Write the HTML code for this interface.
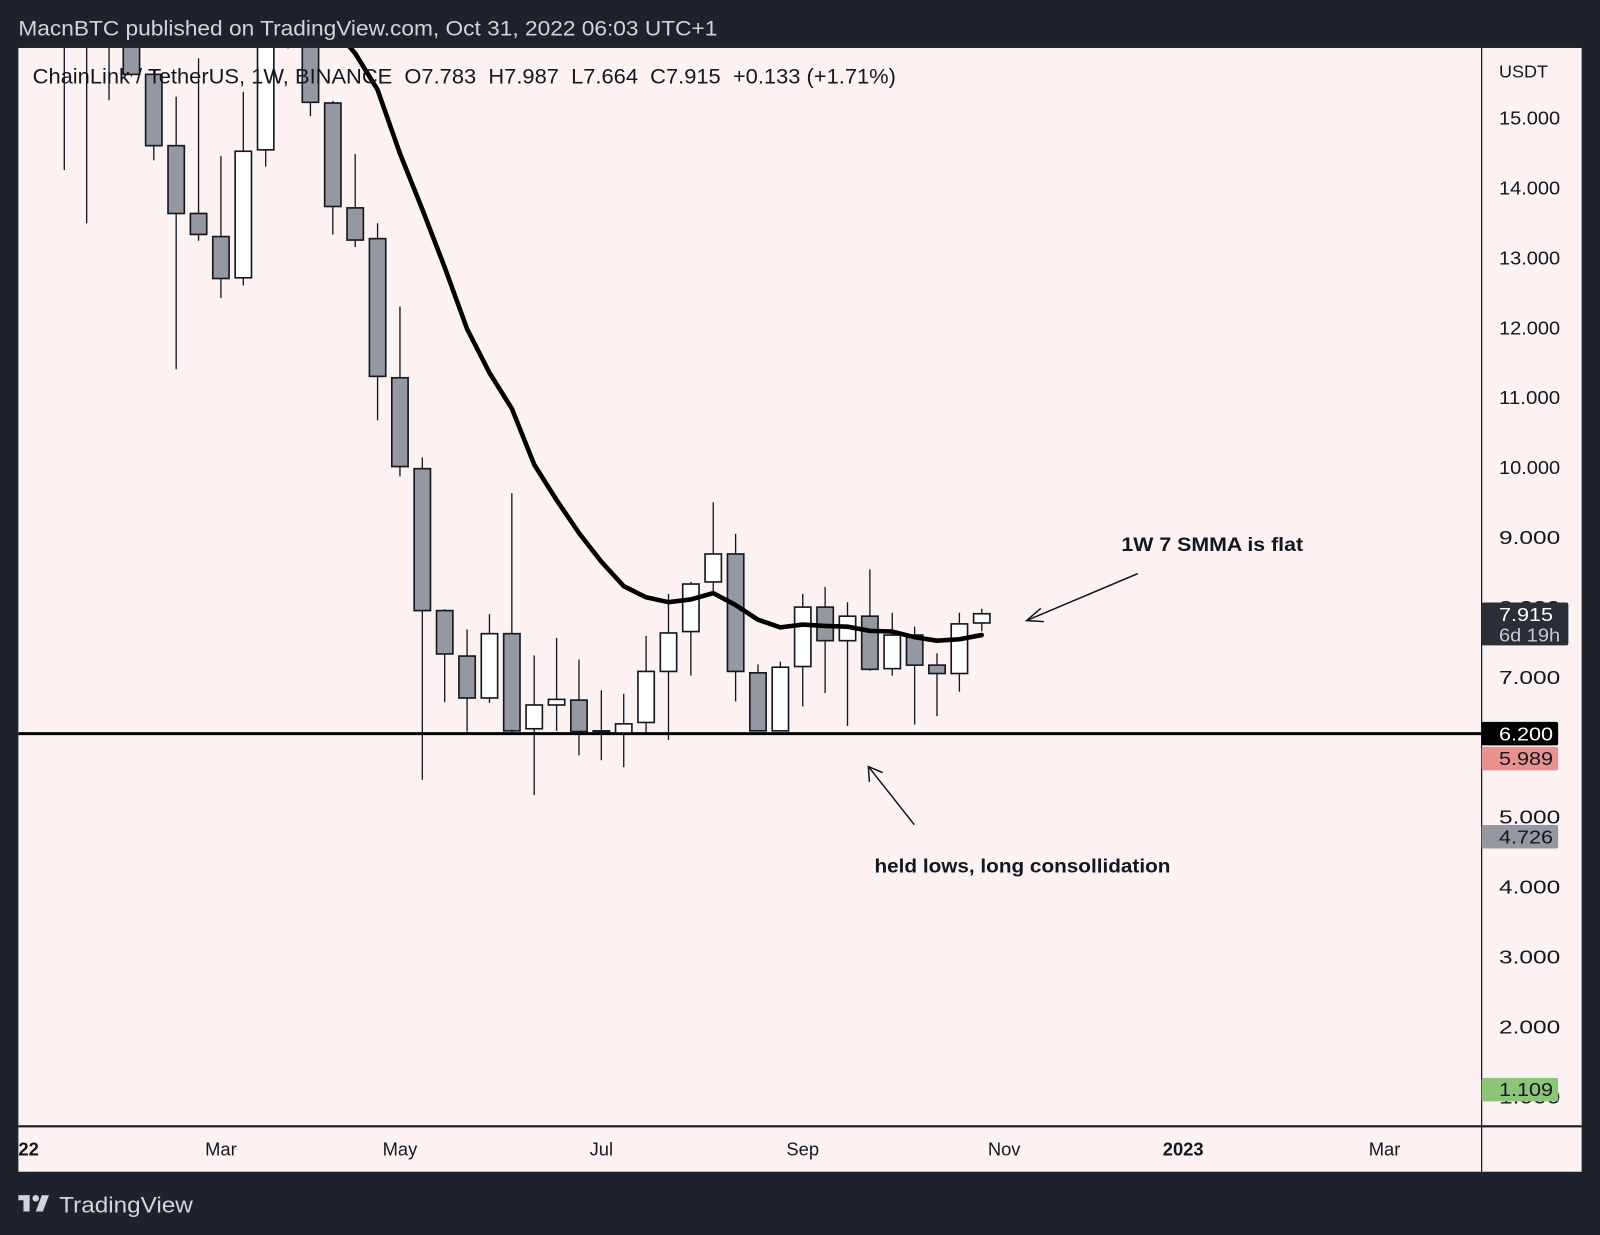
<!DOCTYPE html>
<html><head><meta charset="utf-8"><style>
html,body{margin:0;padding:0;background:#1e222d;}
svg{display:block;font-family:"Liberation Sans",sans-serif;}
</style></head><body>
<svg id="chart" width="1600" height="1235" viewBox="0 0 1568 1210" preserveAspectRatio="none" xmlns="http://www.w3.org/2000/svg">
<defs><clipPath id="pc"><rect x="18" y="47" width="1434" height="1056"/></clipPath></defs>
<rect x="0" y="0" width="1568" height="1210" fill="#1e222d"/>
<text x="18" y="35" font-size="21" fill="#d1d4dc" textLength="685" lengthAdjust="spacingAndGlyphs">MacnBTC published on TradingView.com, Oct 31, 2022 06:03 UTC+1</text>
<rect x="18" y="47" width="1532" height="1101" fill="#fcf2f2"/>
<line x1="1452" y1="47" x2="1452" y2="1148" stroke="#131722" stroke-width="1.2"/>
<line x1="18" y1="1103.5" x2="1550" y2="1103.5" stroke="#131722" stroke-width="2"/>
<g id="marks" clip-path="url(#pc)"></g>
<g id="axis"></g>
<text x="32" y="82" font-size="21" fill="#131722" xml:space="preserve" textLength="846" lengthAdjust="spacingAndGlyphs">ChainLink / TetherUS, 1W, BINANCE  O7.783  H7.987  L7.664  C7.915  +0.133 (+1.71%)</text>
<text x="1469" y="76" font-size="17" fill="#131722" textLength="48" lengthAdjust="spacingAndGlyphs">USDT</text>
<text x="1099" y="540" font-size="19" font-weight="bold" fill="#131722" textLength="178" lengthAdjust="spacingAndGlyphs">1W 7 SMMA is flat</text>
<g stroke="#131722" stroke-width="1.5" fill="none">
<line x1="1115" y1="562" x2="1006" y2="608"/><polyline points="1020,596 1006,608 1023,609"/></g>
<text x="857" y="855" font-size="19" font-weight="bold" fill="#131722" textLength="290" lengthAdjust="spacingAndGlyphs">held lows, long consollidation</text>
<g stroke="#131722" stroke-width="1.5" fill="none">
<line x1="896" y1="808" x2="851" y2="751"/><polyline points="852,766 851,751 865,757"/></g>
<g fill="#d1d4dc">
<rect x="18" y="1171" width="11" height="5"/><rect x="23" y="1171" width="6" height="16"/><circle cx="35" cy="1174" r="3.2"/><polygon points="41,1171 48,1171 42,1187 35,1187"/>
<text x="58" y="1188" font-size="22" textLength="131" lengthAdjust="spacingAndGlyphs">TradingView</text></g>
</svg>
<script>
const dates=["2022-01-17","2022-01-24","2022-01-31","2022-02-07","2022-02-14","2022-02-21","2022-02-28","2022-03-07","2022-03-14","2022-03-21","2022-03-28","2022-04-04","2022-04-11","2022-04-18","2022-04-25","2022-05-02","2022-05-09","2022-05-16","2022-05-23","2022-05-30","2022-06-06","2022-06-13","2022-06-20","2022-06-27","2022-07-04","2022-07-11","2022-07-18","2022-07-25","2022-08-01","2022-08-08","2022-08-15","2022-08-22","2022-08-29","2022-09-05","2022-09-12","2022-09-19","2022-09-26","2022-10-03","2022-10-10","2022-10-17","2022-10-24","2022-10-31"];
const opens=[16.8,16.9,16.5,16.6,15.63,14.61,13.64,13.31,12.72,14.55,16.4,16.4,15.22,13.72,13.28,11.29,9.99,7.96,7.31,6.71,7.63,6.27,6.61,6.68,6.23,6.21,6.36,7.09,7.66,8.37,8.77,7.07,6.24,7.16,8.01,7.53,7.88,7.13,7.61,7.18,7.06,7.783];
const highs=[17.0,17.2,17.0,17.0,15.7,15.31,15.86,14.46,15.38,16.5,17.5,16.8,15.25,14.49,13.5,12.31,10.15,7.98,7.69,7.91,9.64,7.32,7.57,7.26,6.82,6.77,7.6,8.2,8.37,9.51,9.06,7.19,7.23,8.2,8.3,8.08,8.55,7.93,7.73,7.35,7.93,7.987];
const lows=[14.26,13.5,15.26,15.6,14.4,11.41,13.25,12.43,12.61,14.31,16.0,15.03,13.34,13.16,10.68,9.88,5.54,6.65,6.23,6.64,6.21,5.32,6.24,5.89,5.82,5.72,6.21,6.11,7.03,8.23,6.66,6.24,6.24,6.59,6.78,6.31,7.1,7.03,6.33,6.45,6.8,7.664];
const closes=[16.3,16.4,16.8,15.63,14.61,13.64,13.34,12.71,14.53,16.3,17.2,15.23,13.74,13.26,11.31,10.02,7.96,7.34,6.71,7.63,6.24,6.61,6.69,6.23,6.24,6.34,7.09,7.64,8.34,8.77,7.09,6.24,7.15,8.01,7.53,7.88,7.12,7.61,7.18,7.06,7.77,7.915];
const smma=[null,null,null,null,null,null,null,null,null,null,null,null,16.3,15.93,15.41,14.5,13.7,12.87,11.99,11.36,10.85,10.05,9.54,9.07,8.66,8.31,8.15,8.08,8.12,8.21,8.04,7.83,7.72,7.76,7.74,7.73,7.67,7.66,7.58,7.53,7.55,7.61];
const priceTicks=[15,14,13,12,11,10,9,8,7,5,4,3,2,1];
const timeTicks=["2022-01-03","2022-03-07","2022-05-02","2022-07-04","2022-09-05","2022-11-07","2023-01-02","2023-03-06"];
const timeLabels=["22","Mar","May","Jul","Sep","Nov","2023","Mar"];
const boldTime=[true,false,false,false,false,false,true,false];
const supportLevel=6.2;
const priceTags=[["7.915","6d 19h"],["6.200"],["5.989"],["4.726"],["1.109"]];
const priceTagValues=[7.915,6.2,5.989,4.726,1.109];

const NS="http://www.w3.org/2000/svg";
const T0=Date.parse(dates[0]);
function xOf(d){return 63+(Date.parse(d)-T0)/(7*864e5)*21.93;}
function yOf(p){return 664-(p-7)*68.5;}
function mk(tag,attrs,parent){const e=document.createElementNS(NS,tag);for(const k in attrs)e.setAttribute(k,attrs[k]);parent.appendChild(e);return e;}
const marks=document.getElementById('marks'),axis=document.getElementById('axis');

const sl=mk('line',{x1:18,x2:1452,y1:yOf(supportLevel),y2:yOf(supportLevel),stroke:'#000','stroke-width':3},marks);



dates.forEach((d,i)=>{
  const x=xOf(d),o=opens[i],c=closes[i];
  const g=mk('g',{},marks);
  
  
  mk('line',{x1:x,x2:x,y1:yOf(highs[i]),y2:yOf(lows[i]),stroke:'#131722','stroke-width':1.3},g);
  const top=yOf(Math.max(o,c)),bot=yOf(Math.min(o,c));
  mk('rect',{x:x-8,y:top,width:16,height:Math.max(bot-top,1),fill:c>=o?'#ffffff':'#9598a1',stroke:'#131722','stroke-width':1.6},g);
});

let pts=[];smma.forEach((v,i)=>{if(v!==null)pts.push(xOf(dates[i]).toFixed(1)+','+yOf(v).toFixed(1));});
const ln=mk('polyline',{points:pts.join(' '),fill:'none',stroke:'#000','stroke-width':4.5,'stroke-linejoin':'round','stroke-linecap':'round'},marks);



priceTicks.forEach(p=>{
  const t=mk('text',{x:1469,y:yOf(p)+6,'font-size':18,fill:'#131722',textLength:60,lengthAdjust:'spacingAndGlyphs'},axis);
  t.textContent=p.toFixed(3);
  
  
});
const tagFill=['#2a2e39','#000000','#e8928f','#9598a1','#8dc47a'];
const tagText=['#ffffff','#ffffff','#131722','#131722','#131722'];
const tagShift=[0,0,10,0,0];
priceTagValues.forEach((v,i)=>{
  const lines=priceTags[i],y=yOf(v)+tagShift[i];
  const h=lines.length>1?42:23, y0=lines.length>1?y-11:y-11.5, w=lines.length>1?85:75;
  const g=mk('g',{},axis);
  
  
  mk('rect',{x:1452,y:y0,width:w,height:h,rx:2,fill:tagFill[i]},g);
  lines.forEach((s,j)=>{const t=mk('text',{x:1469,y:y0+18+j*20,'font-size':18,fill:j?'#c8cad0':tagText[i],textLength:j?60:53,lengthAdjust:'spacingAndGlyphs'},g);t.textContent=s;});
});
timeTicks.forEach((d,i)=>{
  const t=mk('text',{x:xOf(d),y:1132,'font-size':18,'text-anchor':'middle',fill:'#131722','font-weight':boldTime[i]?'bold':'normal'},axis);
  if(i===0){t.setAttribute('text-anchor','start');t.setAttribute('x',18);}
  t.textContent=timeLabels[i];
  
  
});
</script>
</body></html>
